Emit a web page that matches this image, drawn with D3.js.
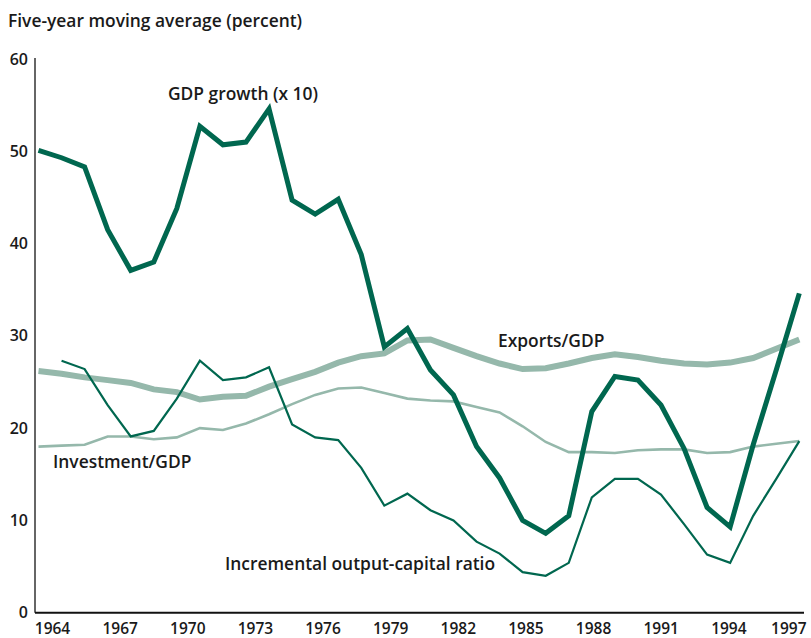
<!DOCTYPE html>
<html>
<head>
<meta charset="utf-8">
<script src="https://cdn.jsdelivr.net/npm/d3@7"></script>
<style>
  body { margin: 0; background: #fff; }
  text { font-family: "Open Sans", sans-serif; font-weight: 600; fill: #1a1a1a; }
</style>
</head>
<body>
<div id="chart"></div>
<script>
// Five-year moving averages, 1964-1997
var years = d3.range(1964, 1998);
var yearTicks = [1964, 1967, 1970, 1973, 1976, 1979, 1982, 1985, 1988, 1991, 1994, 1997];
var valueTicks = [0, 10, 20, 30, 40, 50, 60];

var gdpGrowth = [50.1, 49.3, 48.3, 41.5, 37.1, 38.0, 43.8, 52.7, 50.7, 51.0, 54.6, 44.7,
    43.2, 44.8, 38.8, 28.8, 30.8, 26.3, 23.6, 18.0, 14.6, 10.0, 8.6, 10.5, 21.8, 25.6,
    25.2, 22.5, 17.8, 11.4, 9.3, 18.2, 26.3, 34.6];
var exportsGdp = [26.2, 25.9, 25.5, 25.2, 24.9, 24.2, 23.9, 23.1, 23.4, 23.5, 24.5, 25.3,
    26.1, 27.1, 27.8, 28.1, 29.5, 29.6, 28.7, 27.8, 27.0, 26.4, 26.5, 27.0, 27.6, 28.0,
    27.7, 27.3, 27.0, 26.9, 27.1, 27.6, 28.6, 29.6];
var investmentGdp = [18.0, 18.1, 18.2, 19.1, 19.1, 18.8, 19.0, 20.0, 19.8, 20.5, 21.5, 22.6,
    23.6, 24.3, 24.4, 23.8, 23.2, 23.0, 22.9, 22.3, 21.7, 20.2, 18.5, 17.4, 17.4, 17.3,
    17.6, 17.7, 17.7, 17.3, 17.4, 18.0, 18.3, 18.6];
// no value for 1964
var icor = [null, 27.3, 26.4, 22.5, 19.1, 19.7, 23.2, 27.3, 25.2, 25.5, 26.6, 20.4,
    19.0, 18.7, 15.7, 11.6, 12.9, 11.1, 10.0, 7.7, 6.4, 4.4, 4.0, 5.4, 12.5, 14.5,
    14.5, 12.8, 9.6, 6.3, 5.4, 10.5, 14.5, 18.6];

var width = 811;
var height = 638;

var darkGreen = "#00674f";
var lightGreen = "#95b8ab";

const svg = d3.select("#chart")
    .append("svg")
    .attr("width", width)
    .attr("height", height);

var x = d3.scaleLinear()
    .domain([1964, 1997])
    .range([38.5, 799.3]);
// the year labels sit on a slightly different spacing than the data points
var xLabels = d3.scaleLinear()
    .domain([1964, 1997])
    .range([52, 796]);
var y = d3.scaleLinear()
    .domain([0, 60])
    .range([612.7, 59]);

// Title
svg.append("text")
    .attr("x", 8)
    .attr("y", 27)
    .style("font-size", "17.4px")
    .text("Five-year moving average (percent)");

// Axes
svg.append("g")
    .attr("transform", "translate(35,0)")
    .style("font-size", "16px")
    .call(d3.axisLeft(y).tickValues(valueTicks).tickSize(0).tickPadding(7))
    .call(g => g.select(".domain").remove())
    .call(g => g.selectAll(".tick text").attr("fill", "#1a1a1a").attr("font-family", null));

svg.append("g")
    .attr("transform", "translate(0,612.7)")
    .style("font-size", "15.5px")
    .call(d3.axisBottom(xLabels).tickValues(yearTicks).tickFormat(d3.format("d")).tickSize(0).tickPadding(10))
    .call(g => g.select(".domain").remove())
    .call(g => g.selectAll(".tick text").attr("fill", "#1a1a1a").attr("font-family", null))
    .call(g => g.selectAll(".tick").filter(d => d === 1997).select("text")
        .attr("text-anchor", "end").attr("dx", 10));

svg.append("line")
    .attr("x1", 35).attr("x2", 35)
    .attr("y1", y(60) - 1).attr("y2", y(0))
    .attr("stroke", "#333").attr("stroke-width", 1.5);
svg.append("line")
    .attr("x1", 35).attr("x2", 804)
    .attr("y1", y(0)).attr("y2", y(0))
    .attr("stroke", "#111").attr("stroke-width", 2);

// Lines
var series = [
    { values: investmentGdp, color: lightGreen, width: 2.6 },
    { values: exportsGdp, color: lightGreen, width: 6 },
    { values: icor, color: darkGreen, width: 2.2 },
    { values: gdpGrowth, color: darkGreen, width: 5 }
];

var line = d3.line()
    .defined(d => d[1] != null)
    .x(d => x(d[0]))
    .y(d => y(d[1]));

svg.append("g")
    .selectAll("path")
    .data(series)
    .join("path")
    .attr("fill", "none")
    .attr("stroke", d => d.color)
    .attr("stroke-width", d => d.width)
    .attr("stroke-linejoin", "miter")
    .attr("d", d => line(years.map((yr, i) => [yr, d.values[i]])));

// Series labels
var labels = [
    { text: "GDP growth (x 10)", x: 168, y: 100 },
    { text: "Exports/GDP", x: 498, y: 347 },
    { text: "Investment/GDP", x: 53, y: 468 },
    { text: "Incremental output-capital ratio", x: 225, y: 570 }
];

svg.append("g")
    .selectAll("text")
    .data(labels)
    .join("text")
    .attr("x", d => d.x)
    .attr("y", d => d.y)
    .style("font-size", "17.4px")
    .text(d => d.text);
</script>
</body>
</html>
